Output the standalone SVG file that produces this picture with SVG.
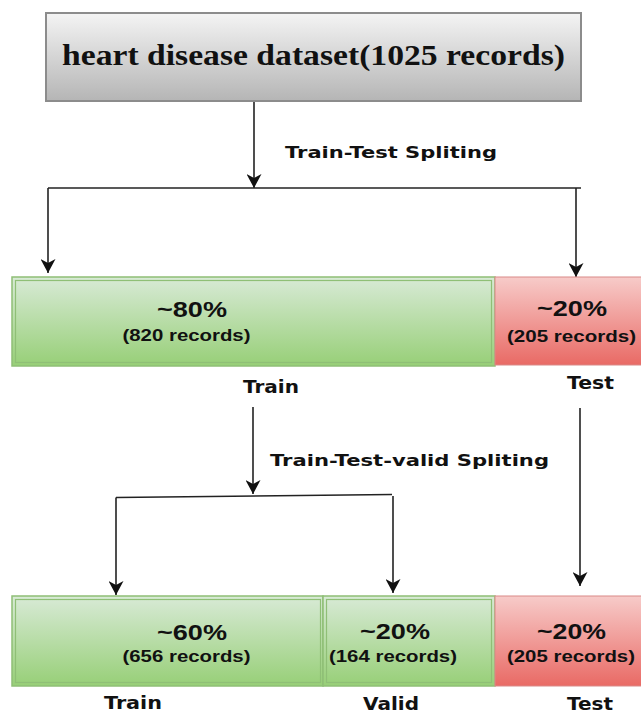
<svg xmlns="http://www.w3.org/2000/svg" width="641" height="713" viewBox="0 0 641 713">
<defs>
<linearGradient id="gGray" x1="0" y1="0" x2="0" y2="1"><stop offset="0" stop-color="#f4f4f4"/><stop offset="1" stop-color="#b5b5b5"/></linearGradient>
<linearGradient id="gGreen" x1="0" y1="0" x2="0" y2="1"><stop offset="0" stop-color="#d8ead6"/><stop offset="1" stop-color="#97cf77"/></linearGradient>
<linearGradient id="gRed" x1="0" y1="0" x2="0" y2="1"><stop offset="0" stop-color="#f7cbc9"/><stop offset="1" stop-color="#e96a65"/></linearGradient>
<marker id="arr" markerUnits="userSpaceOnUse" viewBox="0 0 14 15" refX="14" refY="7.5" markerWidth="14" markerHeight="15" orient="auto">
<path d="M0,0 L14,7.5 L0,15 L4,7.5 Z" fill="#111"/>
</marker>
<style>
.con{fill:none;stroke:#222;stroke-width:1.6}
.gbox{fill:url(#gGreen);stroke:#8fbf76;stroke-width:1.5}
.gin{fill:none;stroke:#8fbf76;stroke-width:1.2}
.rbox{fill:url(#gRed);stroke:#d98a88;stroke-width:1}
.pct{font-family:"Liberation Sans",Arial,sans-serif;font-weight:bold;font-size:22.5px;fill:#111}
.rec{font-family:"Liberation Sans",Arial,sans-serif;font-weight:bold;font-size:17px;fill:#111}
.lbl{font-family:"DejaVu Sans",Verdana,sans-serif;font-weight:bold;font-size:17px;fill:#111}
.spl{font-family:"DejaVu Sans",Verdana,sans-serif;font-weight:bold;font-size:15.5px;fill:#111}
</style>
</defs>

<g id="connectors">
<line class="con" x1="254" y1="101" x2="254" y2="188" marker-end="url(#arr)"/>
<line class="con" x1="48" y1="188" x2="581" y2="188"/>
<line class="con" x1="48" y1="188" x2="48" y2="273" marker-end="url(#arr)"/>
<line class="con" x1="576" y1="188" x2="576" y2="277" marker-end="url(#arr)"/>
<line class="con" x1="253" y1="407" x2="253" y2="494" marker-end="url(#arr)"/>
<line class="con" x1="116" y1="497.5" x2="392" y2="494.5"/>
<line class="con" x1="116" y1="497.5" x2="116" y2="595" marker-end="url(#arr)"/>
<line class="con" x1="393" y1="496" x2="393" y2="593" marker-end="url(#arr)"/>
<line class="con" x1="580" y1="408" x2="580" y2="586" marker-end="url(#arr)"/>
</g>

<g id="edge-labels">
<text class="spl" x="285" y="158" textLength="212" lengthAdjust="spacingAndGlyphs">Train-Test Spliting</text>
<text class="spl" x="270" y="466" textLength="279" lengthAdjust="spacingAndGlyphs">Train-Test-valid Spliting</text>
</g>

<g id="dataset">
<rect x="46" y="13" width="535" height="88" fill="url(#gGray)" stroke="#8c8c8c" stroke-width="2"/>
<text x="62" y="65" font-family="'Liberation Serif','Times New Roman',serif" font-weight="bold" font-size="29" fill="#111" textLength="503" lengthAdjust="spacingAndGlyphs">heart disease dataset(1025 records)</text>
</g>

<g id="train80">
<rect class="gbox" x="12" y="277" width="483" height="89"/>
<rect class="gin" x="15.5" y="280.5" width="476" height="82"/>
<text class="pct" x="157" y="317" textLength="70" lengthAdjust="spacingAndGlyphs">~80%</text>
<text class="rec" x="122.5" y="341" textLength="128" lengthAdjust="spacingAndGlyphs">(820 records)</text>
<text class="lbl" x="243" y="393" textLength="56" lengthAdjust="spacingAndGlyphs">Train</text>
</g>

<g id="test20">
<rect class="rbox" x="495" y="277" width="150" height="88"/>
<text class="pct" x="537" y="316" textLength="70" lengthAdjust="spacingAndGlyphs">~20%</text>
<text class="rec" x="507" y="342" textLength="129" lengthAdjust="spacingAndGlyphs">(205 records)</text>
<text class="lbl" x="567" y="389" textLength="47" lengthAdjust="spacingAndGlyphs">Test</text>
</g>

<g id="train60">
<rect class="gbox" x="12" y="596" width="311" height="90"/>
<rect class="gin" x="15.5" y="599.5" width="305" height="83"/>
<text class="pct" x="157" y="640" textLength="70" lengthAdjust="spacingAndGlyphs">~60%</text>
<text class="rec" x="122.5" y="662" textLength="128" lengthAdjust="spacingAndGlyphs">(656 records)</text>
<text class="lbl" x="104" y="709" textLength="58" lengthAdjust="spacingAndGlyphs">Train</text>
</g>

<g id="valid20">
<rect class="gbox" x="323" y="596" width="172" height="90"/>
<rect class="gin" x="326.5" y="599.5" width="165" height="83"/>
<text class="pct" x="360" y="639" textLength="70" lengthAdjust="spacingAndGlyphs">~20%</text>
<text class="rec" x="329" y="662" textLength="128" lengthAdjust="spacingAndGlyphs">(164 records)</text>
<text class="lbl" x="363" y="710" textLength="56" lengthAdjust="spacingAndGlyphs">Valid</text>
</g>

<g id="test20b">
<rect class="rbox" x="495" y="596" width="150" height="90"/>
<text class="pct" x="537" y="639" textLength="69" lengthAdjust="spacingAndGlyphs">~20%</text>
<text class="rec" x="507" y="662" textLength="128" lengthAdjust="spacingAndGlyphs">(205 records)</text>
<text class="lbl" x="567" y="710" textLength="46" lengthAdjust="spacingAndGlyphs">Test</text>
</g>
</svg>
